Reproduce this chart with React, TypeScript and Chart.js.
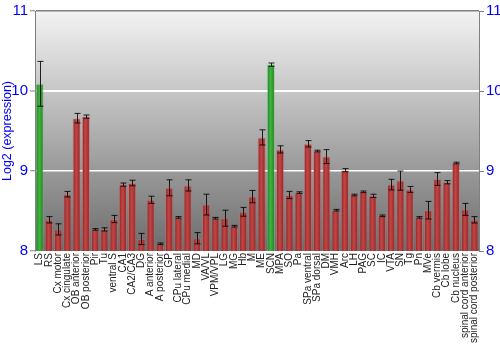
import React, { useEffect, useRef } from "react";
import { Chart, registerables } from "chart.js";

Chart.register(...registerables);

const categories = [
  "LS", "RS", "Cx motor", "Cx cingulate", "OB anterior", "OB posterior", "Pir", "Tu",
  "ventral S", "CA1", "CA2/CA3", "DG", "A anterior", "A posterior", "GP", "CPu lateral",
  "CPu medial", "MD", "VA/VL", "VPM/VPL", "LG", "MG", "Hb", "M", "ME", "SCN", "MPA", "SO",
  "Pa", "SPa ventral", "SPa dorsal", "DM", "VMH", "Arc", "LH", "PAG", "SC", "IC", "VTA",
  "SN", "Tg", "Pn", "MVe", "Cb vermis", "Cb lobe", "Cb nucleus", "spinal cord anterior",
  "spinal cord posterior",
];

const values = [
  10.09, 8.39, 8.27, 8.71, 9.66, 9.68, 8.27, 8.27,
  8.40, 8.83, 8.85, 8.15, 8.64, 8.09, 8.79, 8.42,
  8.82, 8.16, 8.58, 8.41, 8.41, 8.31, 8.49, 8.68, 9.42, 10.33, 9.27, 8.70,
  8.73, 9.34, 9.25, 9.18, 8.51, 9.01, 8.70, 8.74, 8.69, 8.44, 8.83,
  8.88, 8.77, 8.42, 8.51, 8.90, 8.86, 9.10, 8.52,
  8.39,
];

const errors = [
  0.28, 0.04, 0.07, 0.035, 0.06, 0.02, 0.01, 0.02,
  0.045, 0.02, 0.035, 0.07, 0.045, 0.01, 0.1, 0.01,
  0.07, 0.07, 0.13, 0.01, 0.1, 0.01, 0.055, 0.077, 0.095, 0.02, 0.045, 0.045,
  0.01, 0.04, 0.01, 0.087, 0.01, 0.02, 0.01, 0.01, 0.02, 0.01, 0.066,
  0.12, 0.037, 0.01, 0.11, 0.08, 0.02, 0.01, 0.075,
  0.04,
];

const highlighted = ["LS", "SCN"];

const yTicks = [8, 9, 10, 11];

const errorBarPlugin = {
  id: "errorBars",
  afterDatasetsDraw(chart: any) {
    const meta = chart.getDatasetMeta(0);
    const ys = chart.scales.y;
    const ctx = chart.ctx;
    ctx.save();
    ctx.strokeStyle = "rgba(0,0,0,0.85)";
    ctx.lineWidth = 1;
    meta.data.forEach((el: any, i: number) => {
      const v = values[i];
      const e = errors[i];
      const x = Math.round(el.x) + 0.5;
      const yt = ys.getPixelForValue(v + e);
      const yb = ys.getPixelForValue(v - e);
      ctx.beginPath();
      ctx.moveTo(x, yt);
      ctx.lineTo(x, yb);
      ctx.moveTo(x - 3, yt);
      ctx.lineTo(x + 3, yt);
      ctx.moveTo(x - 3, yb);
      ctx.lineTo(x + 3, yb);
      ctx.stroke();
    });
    ctx.restore();
  },
};

const bgPlugin = {
  id: "bgGradient",
  beforeDraw(chart: any) {
    const { ctx, chartArea } = chart;
    if (!chartArea) return;
    const g = ctx.createLinearGradient(0, chartArea.top, 0, chartArea.bottom);
    g.addColorStop(0, "#f3f3f3");
    g.addColorStop(1, "#6c6c6c");
    ctx.save();
    ctx.fillStyle = g;
    ctx.fillRect(chartArea.left, chartArea.top, chartArea.right - chartArea.left, chartArea.bottom - chartArea.top);
    ctx.restore();
  },
};

function barFill(c: any) {
  const green = c.dataIndex !== undefined && highlighted.includes(categories[c.dataIndex]);
  const solid = green ? "#33a033" : "#b03333";
  if (c.dataIndex === undefined) return solid;
  const chart = c.chart;
  const xs = chart.scales && chart.scales.x;
  if (!xs) return solid;
  const cx = xs.getPixelForValue(c.dataIndex);
  if (!isFinite(cx)) return solid;
  const half = 4;
  const g = chart.ctx.createLinearGradient(cx - half, 0, cx + half, 0);
  if (green) {
    g.addColorStop(0, "#1f7d1f");
    g.addColorStop(0.45, "#3fb33f");
    g.addColorStop(1, "#1f801f");
  } else {
    g.addColorStop(0, "#8a2222");
    g.addColorStop(0.45, "#c44545");
    g.addColorStop(1, "#8c2424");
  }
  return g;
}

export default function App() {
  const ref = useRef<HTMLCanvasElement | null>(null);
  useEffect(() => {
    if (!ref.current) return;
    const chart = new Chart(ref.current, {
      type: "bar",
      data: {
        labels: categories,
        datasets: [
          {
            data: values.map((v) => [8, v]) as any,
            backgroundColor: barFill as any,
            borderColor: (c: any) =>
              c.dataIndex !== undefined && highlighted.includes(categories[c.dataIndex])
                ? "rgba(120,200,120,0.5)"
                : "rgba(200,110,110,0.5)",
            borderWidth: 1,
            borderSkipped: "bottom",
            barPercentage: 0.88,
            categoryPercentage: 1,
          },
        ],
      },
      options: {
        animation: false,
        responsive: true,
        maintainAspectRatio: false,
        layout: { padding: { top: 10, left: 0, right: 0, bottom: 0 } },
        plugins: {
          legend: { display: false },
          tooltip: { enabled: false },
        },
        scales: {
          x: {
            grid: { display: false, drawTicks: false },
            border: { display: false },
            ticks: {
              autoSkip: false,
              maxRotation: 90,
              minRotation: 90,
              padding: 2,
              color: "#222",
              font: { family: "Liberation Sans, Arial, sans-serif", size: 10 },
            },
            afterFit(s: any) {
              s.height = 99;
            },
          },
          y: {
            min: 8,
            max: 11,
            position: "left",
            afterBuildTicks(s: any) {
              s.ticks = yTicks.map((v) => ({ value: v }));
            },
            grid: {
              color: (c: any) => (c.tick && c.tick.value === 11 ? "#808080" : c.tick && c.tick.value === 8 ? "rgba(0,0,0,0)" : "#ffffff"),
              lineWidth: (c: any) => (c.tick && c.tick.value === 10 ? 2 : 1.5),
              tickColor: "#808080",
              tickLength: 5,
              tickWidth: 1,
            },
            border: { display: true, color: "#808080", width: 1 },
            title: {
              display: true,
              text: "Log2 (expression)",
              color: "#0000ff",
              font: { family: "Liberation Sans, Arial, sans-serif", size: 12.5 },
              padding: { top: 0, bottom: 2 },
            },
            ticks: {
              color: "#0000ff",
              padding: 2,
              font: { family: "Liberation Sans, Arial, sans-serif", size: 15 },
            },
            afterFit(s: any) {
              s.width = 35;
            },
          },
          y2: {
            min: 8,
            max: 11,
            position: "right",
            afterBuildTicks(s: any) {
              s.ticks = yTicks.map((v) => ({ value: v }));
            },
            grid: { drawOnChartArea: false, tickColor: "#808080", tickLength: 5 },
            border: { display: true, color: "#808080", width: 1 },
            ticks: {
              color: "#0000ff",
              padding: 2,
              font: { family: "Liberation Sans, Arial, sans-serif", size: 15 },
            },
            afterFit(s: any) {
              s.width = 21;
            },
          },
        },
      },
      plugins: [bgPlugin, errorBarPlugin],
    });
    chart.update();
    return () => chart.destroy();
  }, []);
  return (
    <div style={{ position: "fixed", left: 0, top: 0, width: 500, height: 350 }}>
      <canvas ref={ref} />
    </div>
  );
}
